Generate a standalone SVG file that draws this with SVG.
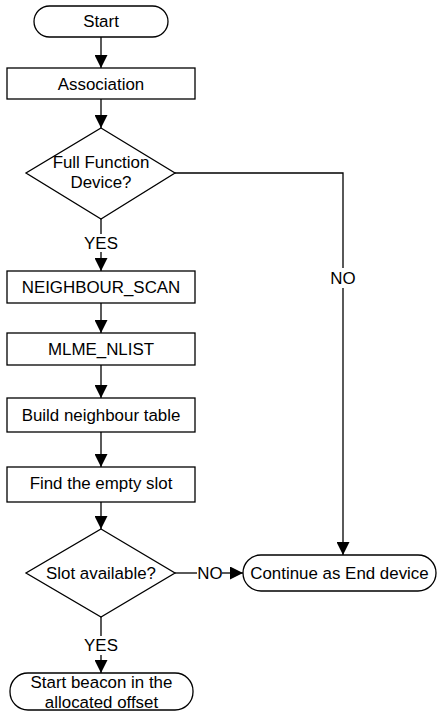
<svg xmlns="http://www.w3.org/2000/svg" width="439" height="713" viewBox="0 0 439 713">
<defs>
<style>
.s{fill:#fff;stroke:#000;stroke-width:1.3}
.c{fill:none;stroke:#000;stroke-width:1.3}
text{font-family:"Liberation Sans",Arial,sans-serif;font-size:16.9px;fill:#000;text-anchor:middle}
</style>
<marker id="ah" markerUnits="userSpaceOnUse" markerWidth="13" markerHeight="13" refX="13" refY="6.5" orient="auto">
<path d="M0,0 L13,6.5 L0,13 z" fill="#000"/>
</marker>
</defs>
<g id="connectors">
<line class="c" x1="101" y1="37" x2="101" y2="68" marker-end="url(#ah)"/>
<line class="c" x1="101" y1="99" x2="101" y2="128" marker-end="url(#ah)"/>
<line class="c" x1="101" y1="219" x2="101" y2="234"/>
<line class="c" x1="101" y1="252" x2="101" y2="271" marker-end="url(#ah)"/>
<line class="c" x1="101" y1="303" x2="101" y2="333" marker-end="url(#ah)"/>
<line class="c" x1="101" y1="365" x2="101" y2="398" marker-end="url(#ah)"/>
<line class="c" x1="101" y1="432" x2="101" y2="467" marker-end="url(#ah)"/>
<line class="c" x1="101" y1="502" x2="101" y2="529" marker-end="url(#ah)"/>
<polyline class="c" points="175,173 343,173 343,268"/>
<line class="c" x1="343" y1="288" x2="343" y2="555" marker-end="url(#ah)"/>
<text x="343" y="284">NO</text>
<text x="101" y="249">YES</text>
<line class="c" x1="175" y1="573" x2="197" y2="573"/>
<line class="c" x1="222" y1="573" x2="243" y2="573" marker-end="url(#ah)"/>
<text x="210" y="579">NO</text>
<line class="c" x1="101" y1="617" x2="101" y2="636"/>
<text x="101" y="651">YES</text>
<line class="c" x1="101" y1="655" x2="101" y2="673" marker-end="url(#ah)"/>
</g>
<g id="start">
<rect class="s" x="34" y="6" width="134" height="31" rx="15.5"/>
<text x="101" y="27">Start</text>
</g>
<g id="association">
<rect class="s" x="7" y="68" width="188" height="31"/>
<text x="101" y="90">Association</text>
</g>
<g id="ffd">
<polygon class="s" points="101,128 175,173 101,219 26,173"/>
<text x="101" y="168">Full Function</text>
<text x="101" y="188">Device?</text>
</g>
<g id="nscan">
<rect class="s" x="7" y="271" width="188" height="32"/>
<text x="101" y="293">NEIGHBOUR_SCAN</text>
</g>
<g id="nlist">
<rect class="s" x="7" y="333" width="188" height="32"/>
<text x="101" y="355">MLME_NLIST</text>
</g>
<g id="build">
<rect class="s" x="7" y="398" width="188" height="34"/>
<text x="101" y="421">Build neighbour table</text>
</g>
<g id="find">
<rect class="s" x="7" y="467" width="188" height="35"/>
<text x="101" y="489">Find the empty slot</text>
</g>
<g id="slot">
<polygon class="s" points="101,529 175,573 101,617 26,573"/>
<text x="101" y="579">Slot available?</text>
</g>
<g id="enddev">
<rect class="s" x="243" y="555" width="193" height="36" rx="18"/>
<text x="339.5" y="579">Continue as End device</text>
</g>
<g id="beacon">
<rect class="s" x="10" y="673" width="183" height="37" rx="18"/>
<text x="101.5" y="688">Start beacon in the</text>
<text x="101.5" y="708">allocated offset</text>
</g>
</svg>
